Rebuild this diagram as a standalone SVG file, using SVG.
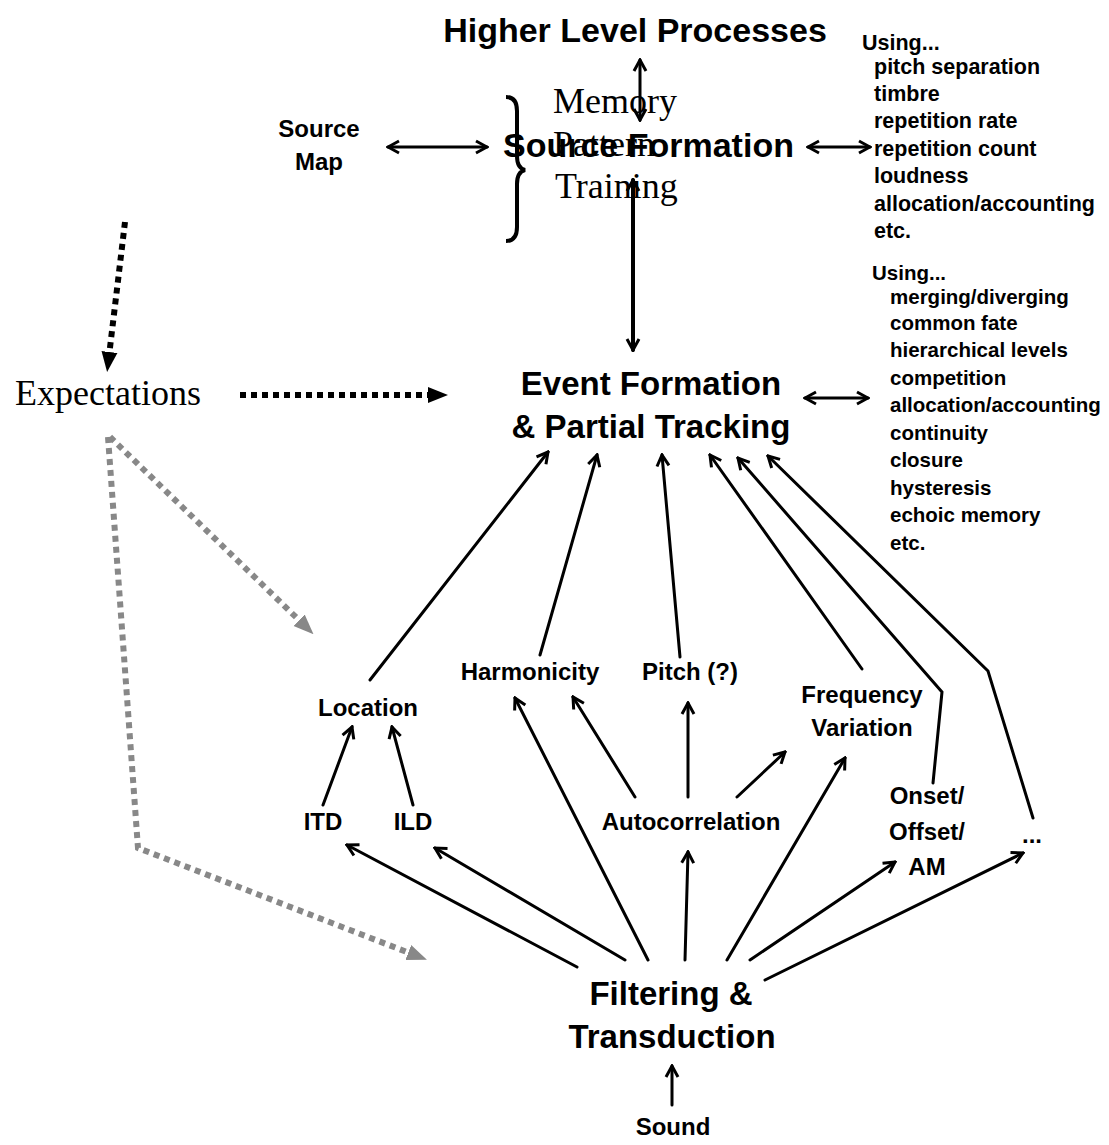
<svg xmlns="http://www.w3.org/2000/svg" width="1109" height="1145" viewBox="0 0 1109 1145">
<defs>
<style>
.h{font-family:"Liberation Sans",Arial,sans-serif;font-weight:bold;fill:#000}
.s{font-family:"Liberation Serif","Times New Roman",serif;fill:#000}
.big{font-size:34px}
.mid{font-size:33px}
.nd{font-size:24px}
.l1{font-size:21.5px}
.l2{font-size:20.5px}
.c{text-anchor:middle}
.ln{fill:none;stroke:#000;stroke-width:3;stroke-linecap:round}
.dk{fill:none;stroke:#000;stroke-width:6;stroke-dasharray:6 5}
.gr{fill:none;stroke:#888;stroke-width:6;stroke-dasharray:6 5}
</style>
<marker id="op" viewBox="0 0 16 16" refX="14" refY="8" markerWidth="16" markerHeight="16" markerUnits="userSpaceOnUse" orient="auto-start-reverse">
<path d="M3,2 L14,8 L3,14" fill="none" stroke="#000" stroke-width="3"/>
</marker>
<marker id="fb" viewBox="0 0 20 20" refX="4" refY="10" markerWidth="20" markerHeight="20" markerUnits="userSpaceOnUse" orient="auto">
<path d="M0,2 L20,10 L0,18 Z" fill="#000"/>
</marker>
<marker id="fg" viewBox="0 0 20 20" refX="4" refY="10" markerWidth="20" markerHeight="20" markerUnits="userSpaceOnUse" orient="auto">
<path d="M0,2 L20,10 L0,18 Z" fill="#888"/>
</marker>
</defs>
<rect width="1109" height="1145" fill="#fff"/>

<g id="connectors">
<line class="ln" x1="640" y1="60" x2="640" y2="120" marker-start="url(#op)" marker-end="url(#op)"/>
<line class="ln" x1="388" y1="147" x2="487" y2="147" marker-start="url(#op)" marker-end="url(#op)"/>
<line class="ln" x1="808" y1="147" x2="870" y2="147" marker-start="url(#op)" marker-end="url(#op)"/>
<line class="ln" style="stroke-width:4" x1="633" y1="180" x2="633" y2="350" marker-start="url(#op)" marker-end="url(#op)"/>
<line class="ln" x1="805" y1="398" x2="868" y2="398" marker-start="url(#op)" marker-end="url(#op)"/>
<path class="dk" d="M125,222 L109,356" marker-end="url(#fb)"/>
<path class="dk" d="M240,395 L432,395" marker-end="url(#fb)"/>
<path class="gr" d="M110,437 L302,623" marker-end="url(#fg)"/>
<path class="gr" d="M108,437 L138,848 L412,954" marker-end="url(#fg)"/>
<line class="ln" x1="370" y1="680" x2="548" y2="452" marker-end="url(#op)"/>
<line class="ln" x1="540" y1="655" x2="597" y2="455" marker-end="url(#op)"/>
<line class="ln" x1="680" y1="657" x2="662" y2="455" marker-end="url(#op)"/>
<line class="ln" x1="862" y1="669" x2="710" y2="455" marker-end="url(#op)"/>
<polyline class="ln" points="933,783 942,692 738,458" marker-end="url(#op)"/>
<polyline class="ln" points="1033,818 988,671 768,456" marker-end="url(#op)"/>
<line class="ln" x1="323" y1="805" x2="352" y2="727" marker-end="url(#op)"/>
<line class="ln" x1="413" y1="805" x2="392" y2="727" marker-end="url(#op)"/>
<line class="ln" x1="635" y1="797" x2="573" y2="697" marker-end="url(#op)"/>
<line class="ln" x1="688" y1="797" x2="688" y2="703" marker-end="url(#op)"/>
<line class="ln" x1="737" y1="797" x2="785" y2="752" marker-end="url(#op)"/>
<line class="ln" x1="577" y1="967" x2="347" y2="845" marker-end="url(#op)"/>
<line class="ln" x1="625" y1="960" x2="435" y2="848" marker-end="url(#op)"/>
<line class="ln" x1="648" y1="960" x2="515" y2="698" marker-end="url(#op)"/>
<line class="ln" x1="685" y1="960" x2="688" y2="852" marker-end="url(#op)"/>
<line class="ln" x1="727" y1="960" x2="845" y2="758" marker-end="url(#op)"/>
<line class="ln" x1="750" y1="960" x2="895" y2="862" marker-end="url(#op)"/>
<line class="ln" x1="765" y1="980" x2="1023" y2="853" marker-end="url(#op)"/>
<line class="ln" x1="672" y1="1105" x2="672" y2="1066" marker-end="url(#op)"/>
</g>

<g id="higher"><text class="h big c" x="635" y="42">Higher Level Processes</text></g>
<g id="sourcemap"><text class="h c" style="font-size:24px" x="319" y="137">Source</text><text class="h c" style="font-size:24px" x="319" y="170">Map</text></g>
<g id="sourceformation"><text class="h big" x="503" y="157">Source Formation</text></g>
<g id="memory">
<path d="M506,97 Q517,97 517,111 L517,156 Q517,168 525,170 Q517,172 517,184 L517,227 Q517,241 506,241" fill="none" stroke="#000" stroke-width="4"/>
<text class="s" style="font-size:36px" x="553" y="113">Memory</text>
<text class="s" style="font-size:36px" x="553" y="156">Pattern</text>
<text class="s" style="font-size:36px" x="555" y="198">Training</text>
</g>
<g id="list1" class="h l1">
<text x="862" y="50">Using...</text>
<text x="874" y="74">pitch separation</text>
<text x="874" y="101">timbre</text>
<text x="874" y="128">repetition rate</text>
<text x="874" y="156">repetition count</text>
<text x="874" y="183">loudness</text>
<text x="874" y="211">allocation/accounting</text>
<text x="874" y="238">etc.</text>
</g>
<g id="list2" class="h l2">
<text x="872" y="280">Using...</text>
<text x="890" y="304">merging/diverging</text>
<text x="890" y="330">common fate</text>
<text x="890" y="357">hierarchical levels</text>
<text x="890" y="385">competition</text>
<text x="890" y="412">allocation/accounting</text>
<text x="890" y="440">continuity</text>
<text x="890" y="467">closure</text>
<text x="890" y="495">hysteresis</text>
<text x="890" y="522">echoic memory</text>
<text x="890" y="550">etc.</text>
</g>
<g id="expectations"><text class="s" style="font-size:36px" x="15" y="405">Expectations</text></g>
<g id="event"><text class="h mid c" x="651" y="395">Event Formation</text><text class="h mid c" x="651" y="438">&amp; Partial Tracking</text></g>
<g id="location"><text class="h nd c" x="368" y="716">Location</text></g>
<g id="harmonicity"><text class="h nd c" x="530" y="680">Harmonicity</text></g>
<g id="pitch"><text class="h nd c" x="690" y="680">Pitch (?)</text></g>
<g id="freqvar"><text class="h nd c" x="862" y="703">Frequency</text><text class="h nd c" x="862" y="736">Variation</text></g>
<g id="itd"><text class="h nd c" x="323" y="830">ITD</text></g>
<g id="ild"><text class="h nd c" x="413" y="830">ILD</text></g>
<g id="autocorr"><text class="h nd c" x="691" y="830">Autocorrelation</text></g>
<g id="onset"><text class="h nd c" x="927" y="804">Onset/</text><text class="h nd c" x="927" y="840">Offset/</text><text class="h nd c" x="927" y="875">AM</text></g>
<g id="etc"><text class="h nd c" x="1032" y="843">...</text></g>
<g id="filtering"><text class="h mid c" x="671" y="1005">Filtering &amp;</text><text class="h mid c" x="672" y="1048">Transduction</text></g>
<g id="sound"><text class="h nd c" x="673" y="1135">Sound</text></g>
</svg>
